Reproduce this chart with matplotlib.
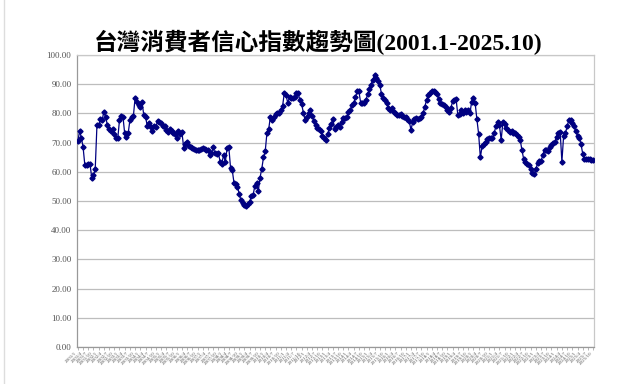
import matplotlib
matplotlib.use("Agg")
import matplotlib.pyplot as plt
from matplotlib.lines import Line2D

title = "台灣消費者信心指數趨勢圖(2001.1-2025.10)"

y2001 = [70.5, 73.9, 71.7, 68.5, 62.4, 62.4, 62.8, 62.6, 58.0, 58.8, 60.8, 75.9]
y2002 = [75.9, 78.0, 77.7, 80.6, 78.8, 76.0, 74.7, 74.0, 74.6, 72.9, 71.4, 71.4]
y2003 = [77.7, 79.2, 78.8, 73.1, 72.0, 73.1, 77.7, 78.8, 79.0, 85.4, 84.0, 82.9]
y2004 = [82.3, 83.8, 79.4, 78.8, 75.7, 76.8, 75.4, 73.9, 75.7, 75.4, 77.5, 77.1]
y2005 = [76.8, 75.7, 75.6, 74.2, 73.7, 74.7, 73.9, 73.1, 72.9, 71.5, 73.8, 73.0]
y2006 = [73.5, 68.2, 69.5, 70.3, 68.9, 68.4, 68.1, 67.8, 67.5, 67.4, 67.5, 67.9]
y2007 = [68.0, 67.7, 67.4, 67.6, 65.7, 66.3, 68.3, 66.3, 66.1, 66.3, 63.5, 62.8]
y2008 = [65.8, 63.3, 68.0, 68.5, 61.4, 60.5, 56.2, 55.9, 54.8, 52.5, 50.2, 49.3]
y2009 = [48.5, 48.2, 48.9, 49.7, 51.6, 52.0, 55.1, 56.2, 53.3, 58.0, 61.0, 64.9]
y2010 = [67.0, 73.4, 74.6, 78.9, 77.8, 78.7, 79.6, 80.1, 80.2, 81.3, 82.5, 86.9]
y2011 = [86.3, 83.5, 85.6, 85.4, 85.1, 85.7, 87.1, 86.8, 84.5, 83.1, 80.2, 77.6]
y2012 = [78.6, 80.0, 81.0, 79.0, 77.5, 76.0, 75.1, 74.5, 73.8, 72.3, 71.5, 70.9]
y2013 = [73.0, 74.9, 76.3, 78.0, 74.5, 75.3, 76.0, 75.4, 77.1, 78.3, 78.3, 78.9]
y2014 = [80.6, 81.2, 82.8, 83.5, 85.5, 87.5, 87.5, 83.7, 83.4, 83.4, 84.5, 86.5]
y2015 = [88.2, 89.8, 91.5, 93.0, 92.2, 91.1, 89.8, 86.7, 85.1, 84.6, 83.4, 81.7]
y2016 = [81.1, 81.7, 80.5, 80.0, 79.5, 79.5, 79.8, 79.2, 78.7, 78.6, 78.0, 77.4]
y2017 = [74.3, 77.0, 78.1, 78.3, 78.0, 78.3, 78.9, 80.0, 82.3, 84.6, 86.3, 86.8]
y2018 = [87.5, 87.8, 87.4, 86.5, 84.9, 83.6, 83.1, 83.0, 82.0, 81.2, 80.3, 81.8]
y2019 = [84.1, 84.7, 85.0, 79.5, 79.7, 81.0, 80.0, 81.0, 80.6, 81.2, 80.0, 84.0]
y2020 = [85.1, 83.5, 78.0, 73.0, 64.9, 68.7, 69.4, 70.3, 71.2, 71.5, 71.5, 71.4]
y2021 = [73.3, 75.7, 77.0, 75.9, 70.9, 77.0, 76.2, 75.0, 74.4, 73.7, 74.0, 73.4]
y2022 = [73.2, 72.5, 71.9, 70.8, 67.3, 64.3, 63.3, 62.8, 62.3, 61.0, 59.5, 59.2]
y2023 = [60.9, 63.0, 63.7, 63.8, 65.6, 67.6, 67.6, 67.0, 68.4, 69.1, 69.7, 70.3]
y2024 = [72.0, 73.4, 73.7, 63.4, 72.3, 73.1, 75.5, 77.8, 77.7, 76.8, 75.5, 73.8]
y2025 = [72.3, 71.7, 69.5, 66.2, 64.4, 64.4, 64.2, 64.5, 64.0, 64.0]

yearly = [y2001, y2002, y2003, y2004, y2005, y2006, y2007, y2008, y2009, y2010,
          y2011, y2012, y2013, y2014, y2015, y2016, y2017, y2018, y2019, y2020,
          y2021, y2022, y2023, y2024, y2025]
years = list(range(2001, 2026))

values = []
labels = []
for yr, vals in zip(years, yearly):
    for i, v in enumerate(vals):
        values.append(v)
        labels.append(f"{yr}/{i + 1}")

yticks = [0, 10, 20, 30, 40, 50, 60, 70, 80, 90, 100]
ytick_labels = [f"{t:.2f}" for t in yticks]

fig = plt.figure(figsize=(6.4, 3.84), dpi=100)
ax = fig.add_axes([0.1203, 0.0964, 0.8078, 0.7606])

x = list(range(len(values)))
ax.plot(x, values, color="#000080", linewidth=0.9, marker="D", markersize=2.6,
        markerfacecolor="#000080", markeredgecolor="#000080", zorder=3)

ax.set_xlim(-0.5, len(values) - 0.5)
ax.set_ylim(0, 100)
ax.set_yticks(yticks)
ax.set_yticklabels(ytick_labels, family="Liberation Serif", fontsize=6.5, color="#555555")
ax.yaxis.grid(True, color="#bdbdbd", linewidth=0.9)
ax.set_axisbelow(True)

step = 3
ax.set_xticks(x[::step])
ax.set_xticklabels(labels[::step], rotation=45, ha="right", fontsize=3.6,
                   family="Liberation Serif", color="#555555")
ax.tick_params(axis="x", length=2, width=0.5, color="#999999", pad=1)
ax.tick_params(axis="y", length=0, pad=4)

for side in ["left", "bottom", "top", "right"]:
    ax.spines[side].set_color("#c8c8c8")
    ax.spines[side].set_linewidth(0.9)
ax.spines["bottom"].set_color("#999999")
ax.spines["left"].set_color("#999999")

fig.text(0.497, 0.89, title, ha="center", va="center", fontsize=17,
         fontweight="bold", family=["Liberation Serif", "Noto Sans CJK TC"])

fig.add_artist(Line2D([0.006, 0.006], [0, 1], color="#dddddd", linewidth=1))

fig.savefig("out.png", dpi=100, facecolor="white")
